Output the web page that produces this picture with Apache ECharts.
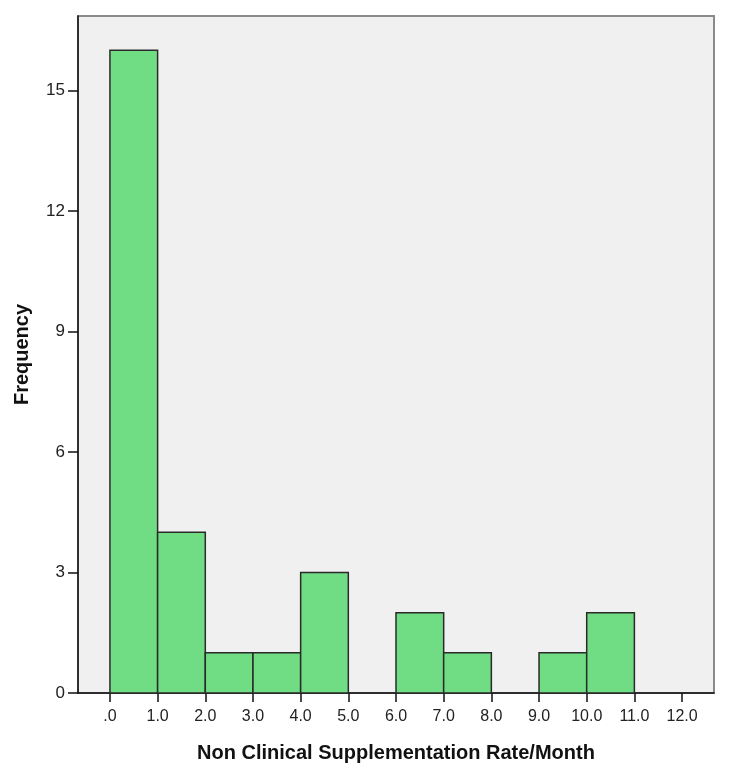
<!DOCTYPE html>
<html lang="en">
<head>
  <meta charset="UTF-8">
  <title>Non Clinical Supplementation Rate/Month</title>
  <script src="https://cdn.jsdelivr.net/npm/echarts@6/dist/echarts.min.js"></script>
  <style>
    html, body { margin: 0; padding: 0; background: #fff; }
  </style>
</head>
<body>
<div id="main" style="width: 729px;height:772px;"></div>
<script type="text/javascript">
  // histogram bins (lower edge, upper edge) and counts
  var binStart = [0, 1, 2, 3, 4, 5, 6, 7, 8, 9, 10, 11];
  var binEnd   = [1, 2, 3, 4, 5, 6, 7, 8, 9, 10, 11, 12];
  var counts   = [16, 4, 1, 1, 3, 0, 2, 1, 0, 1, 2, 0];
  var xTicks = [0, 1, 2, 3, 4, 5, 6, 7, 8, 9, 10, 11, 12];
  var yTicks = [0, 3, 6, 9, 12, 15];

  var myChart = echarts.init(document.getElementById('main'));

  var datas = [];
  for (let i = 0; i < counts.length; i++) {
    if (counts[i] > 0) datas.push([binStart[i], binEnd[i], counts[i]]);
  }

  var font = 'Liberation Sans, Arial, sans-serif';

  var option = {
    animation: false,
    grid: {
      left: 78, right: 15, top: 16, bottom: 79,
      show: true,
      backgroundColor: '#F0F0F0',
      borderColor: '#8a8a8a',
      borderWidth: 2
    },
    xAxis: {
      type: 'value',
      min: -0.67,
      max: 12.67,
      name: 'Non Clinical Supplementation Rate/Month',
      nameLocation: 'middle',
      nameGap: 50,
      nameTextStyle: { fontFamily: font, fontSize: 20, fontWeight: 'bold', color: '#111' },
      splitLine: { show: false },
      axisLine: { onZero: false, lineStyle: { color: '#111', width: 1.5 } },
      axisTick: { customValues: xTicks, length: 9, lineStyle: { color: '#111', width: 1.5 } },
      axisLabel: {
        customValues: xTicks,
        margin: 16,
        fontFamily: font, fontSize: 16, color: '#222',
        formatter: function (v) { return v === 0 ? '.0' : v.toFixed(1); }
      }
    },
    yAxis: {
      type: 'value',
      min: 0,
      max: 16.85,
      name: 'Frequency',
      nameLocation: 'middle',
      nameGap: 46,
      nameTextStyle: { fontFamily: font, fontSize: 20, fontWeight: 'bold', color: '#111' },
      splitLine: { show: false },
      axisLine: { show: true, onZero: false, lineStyle: { color: '#111', width: 1.5 } },
      axisTick: { show: true, customValues: yTicks, length: 10, lineStyle: { color: '#111', width: 1.5 } },
      axisLabel: { customValues: yTicks, margin: 13, fontFamily: font, fontSize: 17, color: '#222' }
    },
    series: [
      {
        type: 'custom',
        data: datas,
        encode: { x: [0, 1], y: 2 },
        renderItem: function (params, api) {
          var p0 = api.coord([api.value(0), api.value(2)]);
          var p1 = api.coord([api.value(1), 0]);
          return {
            type: 'rect',
            shape: { x: p0[0], y: p0[1], width: p1[0] - p0[0], height: p1[1] - p0[1] },
            style: { fill: '#70DC84', stroke: '#2a2a2a', lineWidth: 1.5 }
          };
        }
      }
    ]
  };
  myChart.setOption(option);
</script>
</body>
</html>
